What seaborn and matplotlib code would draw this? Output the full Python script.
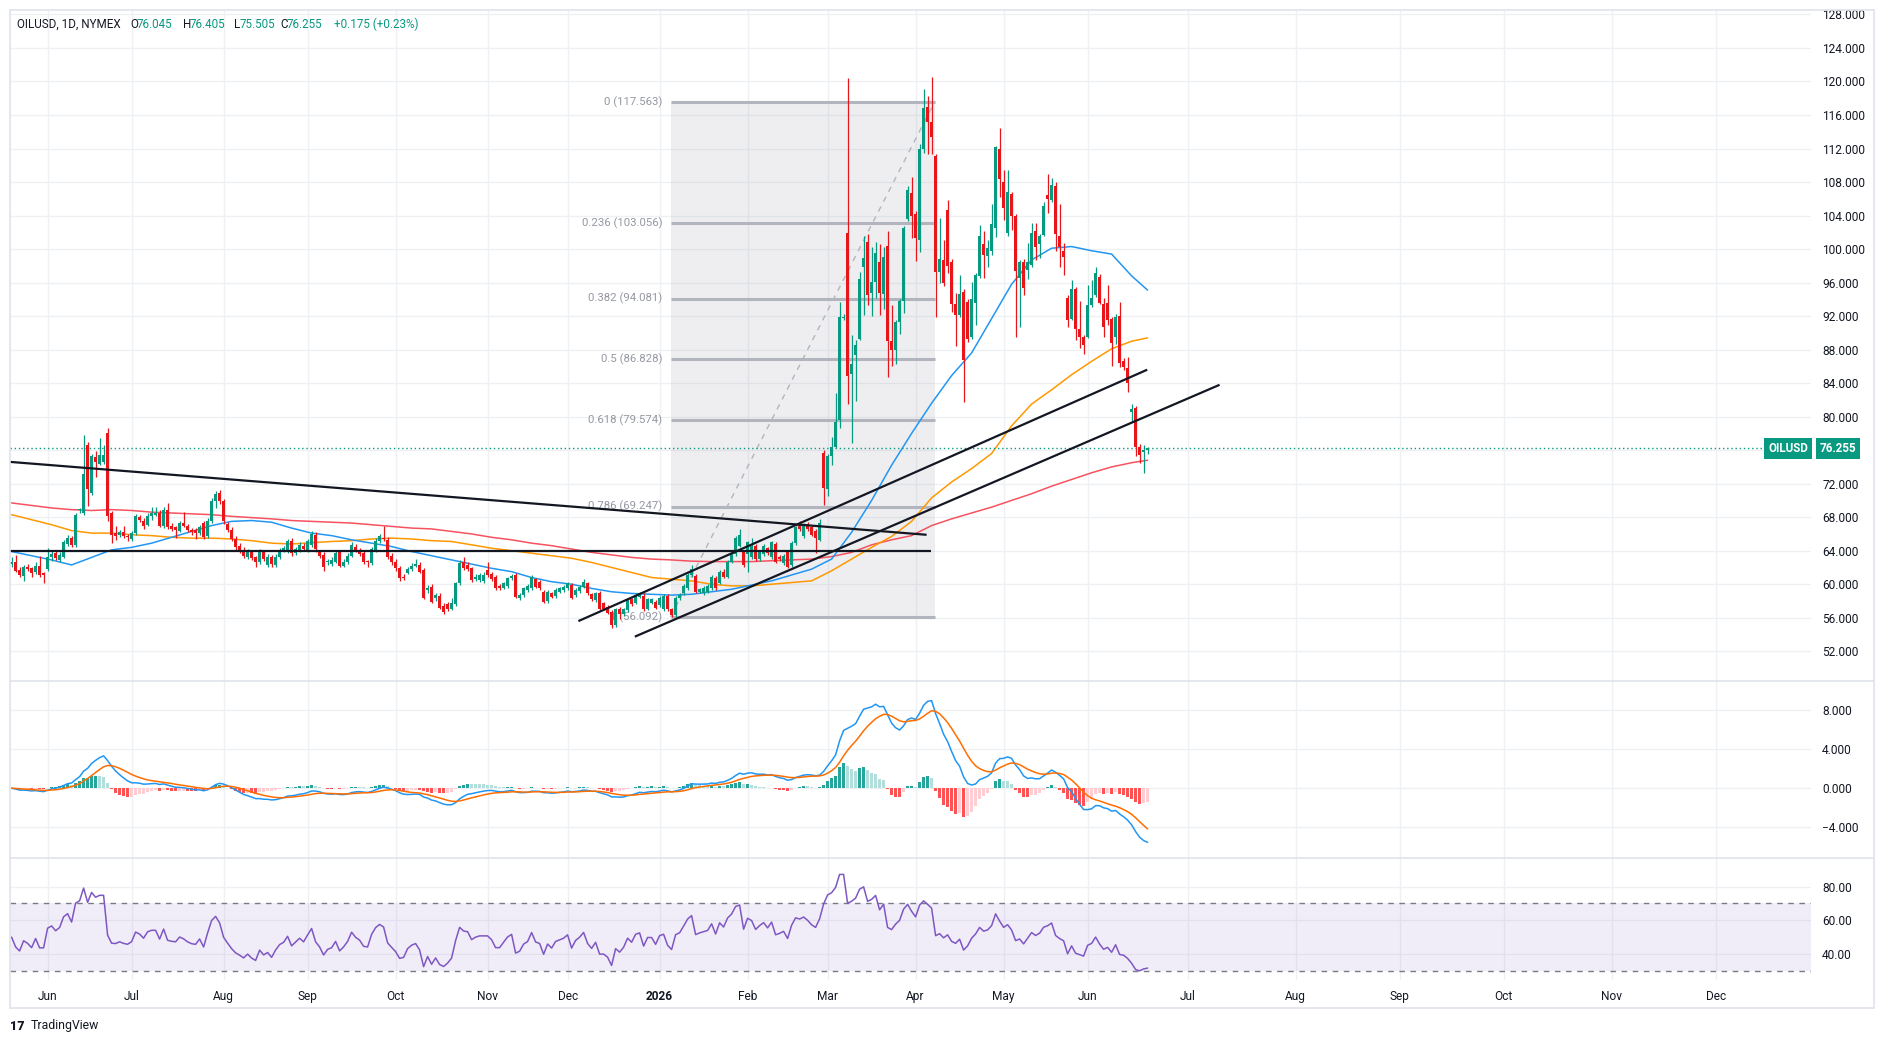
import matplotlib
matplotlib.use("Agg")
import matplotlib.pyplot as plt
from matplotlib.patches import Rectangle
from matplotlib.lines import Line2D
import seaborn as sns
import numpy as np
import pandas as pd

# daily OHLC, OILUSD NYMEX, one entry per trading bar (May 2025 -> Jun 2026)
opens = [62.4, 62.7, 61.7, 61.0, 62.1, 61.9, 61.4, 62.2, 61.3, 61.8,
         63.2, 63.7, 62.9, 63.3, 64.8, 65.5, 64.7, 68.8, 68.5, 76.6,
         70.9, 75.2, 74.4, 74.6, 78.0, 68.5, 66.1, 65.9, 66.2, 65.8,
         65.4, 66.1, 68.0, 67.6, 67.1, 68.2, 68.3, 68.5, 66.9, 68.8,
         67.0, 66.8, 66.4, 67.3, 67.0, 66.5, 66.5, 66.1, 67.3, 65.7,
         67.5, 69.9, 70.9, 69.9, 67.2, 66.5, 65.4, 64.6, 64.1, 63.2,
         63.8, 63.2, 62.6, 63.8, 62.3, 63.2, 62.3, 63.2, 64.1, 63.9,
         65.2, 63.7, 64.1, 64.6, 64.1, 64.7, 65.9, 63.8, 63.5, 62.6,
         62.4, 62.7, 63.8, 62.2, 62.6, 63.4, 64.5, 64.0, 63.7, 62.7,
         62.5, 64.1, 65.1, 65.5, 65.3, 63.4, 62.7, 61.9, 60.9, 61.3,
         61.8, 62.2, 62.3, 61.7, 59.3, 59.7, 58.3, 58.6, 57.4, 57.6,
         57.1, 57.6, 60.1, 62.7, 62.3, 61.9, 60.6, 60.5, 60.4, 61.7,
         61.2, 60.9, 59.8, 59.6, 59.8, 60.7, 61.1, 58.3, 58.7, 59.3,
         59.5, 60.6, 60.3, 59.1, 58.0, 58.9, 58.6, 59.1, 59.3, 59.5,
         59.9, 58.7, 59.2, 59.7, 60.1, 58.8, 58.1, 59.0, 57.7, 57.3,
         56.7, 55.1, 57.0, 56.4, 56.9, 58.2, 57.8, 58.5, 58.6, 57.1,
         57.8, 57.9, 57.5, 57.0, 58.6, 57.0, 56.3, 58.3, 58.9, 59.5,
         61.1, 61.0, 59.1, 58.9, 59.1, 59.5, 60.8, 60.2, 61.5, 60.9,
         62.7, 63.6, 64.6, 63.9, 63.6, 63.2, 64.6, 63.0, 63.6, 64.3,
         63.2, 64.8, 63.3, 62.5, 63.9, 62.3, 64.9, 67.3, 65.7, 67.2,
         66.8, 66.4, 65.3, 75.7, 71.4, 75.3, 76.4, 79.6, 91.8, 101.9,
         85.1, 87.4, 89.3, 97.9, 100.9, 94.7, 96.1, 98.4, 94.6, 100.4,
         89.0, 87.9, 91.3, 93.8, 103.6, 106.7, 104.2, 101.1, 112.0, 117.0,
         115.2, 111.1, 97.3, 98.7, 104.7, 98.5, 93.5, 92.1, 94.9, 93.7,
         89.5, 93.6, 96.8, 100.6, 99.2, 99.8, 102.5, 112.0, 108.0, 101.9,
         106.6, 103.9, 96.5, 98.5, 97.5, 98.1, 102.1, 100.6, 101.7, 106.4,
         105.9, 107.5, 101.6, 99.8, 94.1, 91.6, 95.2, 90.5, 89.5, 89.5,
         93.3, 94.5, 96.7, 93.5, 93.6, 91.6, 89.5, 92.0, 86.6, 85.8,
         80.6, 81.0, 76.4, 75.8, 76.045]
highs = [63.2, 63.5, 62.0, 62.3, 62.4, 62.1, 62.6, 63.4, 61.5, 64.3,
         64.0, 64.1, 63.8, 65.3, 65.9, 65.8, 68.5, 69.1, 77.8, 77.0,
         75.6, 75.9, 77.4, 76.6, 78.6, 68.7, 67.0, 66.5, 66.9, 66.0,
         66.4, 68.4, 68.3, 67.9, 68.5, 69.2, 69.2, 68.8, 69.2, 69.7,
         67.3, 67.0, 67.6, 68.6, 67.2, 66.7, 66.7, 67.1, 67.5, 67.9,
         70.3, 71.1, 71.2, 70.2, 67.4, 66.8, 65.7, 64.9, 64.4, 64.2,
         64.1, 63.4, 64.2, 64.1, 63.6, 63.5, 63.6, 64.3, 64.6, 65.4,
         65.5, 64.5, 65.0, 64.9, 65.4, 66.4, 66.2, 64.1, 63.8, 63.0,
         63.2, 64.0, 64.1, 63.0, 63.7, 65.0, 64.8, 64.3, 64.0, 62.9,
         64.5, 65.5, 66.0, 66.9, 65.6, 63.7, 63.0, 62.2, 61.2, 62.1,
         62.5, 63.0, 62.6, 61.9, 59.9, 60.0, 58.9, 58.9, 57.7, 57.9,
         58.4, 60.3, 62.9, 63.2, 62.6, 62.1, 61.2, 61.3, 61.4, 62.7,
         61.5, 61.1, 60.0, 60.3, 60.9, 61.2, 61.3, 58.9, 59.7, 60.0,
         61.1, 60.8, 60.5, 59.3, 59.3, 59.1, 59.5, 59.7, 59.9, 60.3,
         60.1, 59.5, 59.9, 60.6, 60.3, 59.0, 59.1, 59.2, 57.9, 57.5,
         56.9, 57.2, 57.3, 57.2, 58.4, 58.4, 58.9, 59.1, 58.9, 58.4,
         58.4, 58.1, 58.6, 58.8, 58.8, 57.2, 58.6, 58.9, 60.0, 61.3,
         62.3, 61.2, 59.6, 59.8, 60.0, 61.1, 61.0, 61.7, 61.8, 62.9,
         63.8, 65.7, 66.6, 64.1, 65.2, 65.5, 64.8, 64.1, 64.8, 64.5,
         65.2, 65.0, 63.5, 63.6, 64.1, 65.1, 67.0, 67.5, 67.3, 67.4,
         67.0, 66.6, 67.8, 76.0, 75.5, 77.6, 82.8, 93.7, 92.2, 120.4,
         89.7, 89.2, 97.3, 101.6, 101.8, 100.2, 100.9, 100.6, 100.2, 102.2,
         93.3, 91.5, 94.0, 102.8, 107.5, 108.6, 104.5, 112.5, 119.1, 118.3,
         120.5, 111.4, 103.7, 101.1, 105.8, 98.8, 94.7, 96.9, 95.2, 94.0,
         96.1, 97.1, 102.9, 102.1, 101.1, 105.4, 112.3, 114.4, 109.4, 109.4,
         106.8, 104.2, 98.7, 98.8, 100.7, 103.1, 103.1, 101.8, 105.6, 109.0,
         108.5, 108.0, 105.4, 100.7, 94.5, 96.3, 95.5, 93.8, 89.8, 95.7,
         96.3, 97.8, 97.0, 94.1, 95.7, 91.9, 92.2, 93.7, 87.0, 87.1,
         81.5, 81.3, 76.7, 76.6, 76.405]
lows = [62.1, 61.4, 60.9, 60.4, 61.6, 60.9, 61.2, 60.9, 60.2, 61.6,
        62.8, 62.9, 62.7, 63.1, 64.6, 64.4, 64.5, 68.5, 68.3, 69.3,
        70.6, 72.8, 74.2, 74.3, 67.5, 64.9, 65.3, 65.6, 65.5, 65.2,
        65.1, 65.9, 67.4, 66.6, 66.9, 67.7, 68.1, 66.8, 66.7, 66.6,
        66.3, 65.5, 66.2, 66.8, 66.2, 65.9, 65.4, 65.9, 65.4, 65.5,
        67.3, 69.1, 69.6, 67.2, 66.2, 65.1, 64.1, 63.7, 63.1, 63.0,
        62.9, 62.0, 62.4, 62.8, 62.1, 62.1, 62.1, 63.0, 63.9, 63.7,
        63.4, 63.5, 63.9, 64.0, 63.9, 64.5, 63.9, 63.1, 61.6, 62.3,
        62.2, 62.5, 62.0, 62.0, 62.4, 63.2, 63.8, 63.4, 62.4, 62.0,
        62.3, 63.9, 64.9, 65.1, 63.0, 62.3, 61.6, 60.4, 60.5, 61.2,
        61.6, 62.0, 61.3, 58.2, 59.0, 57.7, 58.0, 57.0, 56.4, 56.8,
        56.9, 57.4, 59.9, 61.7, 61.6, 60.3, 60.4, 60.3, 60.2, 60.9,
        60.4, 59.3, 59.3, 59.4, 59.6, 60.5, 58.3, 58.1, 58.5, 59.1,
        59.3, 59.5, 59.3, 57.7, 57.8, 58.3, 58.4, 58.9, 59.1, 59.3,
        58.2, 58.5, 59.0, 59.5, 58.7, 58.0, 57.9, 56.9, 56.9, 56.4,
        54.8, 54.9, 55.9, 56.2, 56.7, 57.4, 57.6, 58.3, 56.8, 56.9,
        57.6, 57.0, 57.3, 56.8, 56.8, 56.09, 56.1, 58.1, 58.7, 59.3,
        60.9, 58.9, 58.9, 58.7, 58.9, 59.3, 59.3, 60.0, 60.7, 60.7,
        62.5, 63.4, 64.4, 62.1, 61.4, 63.0, 62.8, 62.8, 63.4, 63.5,
        63.0, 62.5, 62.8, 62.3, 61.9, 62.1, 64.7, 66.4, 65.5, 66.4,
        65.7, 63.7, 65.1, 69.4, 70.5, 74.2, 76.2, 78.7, 91.5, 81.5,
        76.9, 81.9, 89.1, 92.1, 93.3, 92.0, 94.2, 92.1, 92.9, 84.7,
        86.0, 86.3, 89.9, 92.4, 103.3, 101.3, 98.6, 99.7, 111.5, 111.4,
        111.4, 91.9, 96.0, 95.6, 97.2, 92.5, 88.4, 91.9, 81.7, 88.9,
        89.3, 90.9, 96.5, 96.5, 97.9, 99.3, 101.4, 106.2, 103.5, 101.5,
        102.3, 89.5, 90.7, 94.5, 96.4, 97.9, 98.7, 98.9, 101.5, 104.3,
        105.6, 99.8, 97.9, 96.9, 90.7, 91.5, 89.1, 88.2, 87.5, 89.4,
        93.1, 94.3, 93.4, 89.5, 90.9, 86.0, 88.7, 85.9, 85.6, 83.0,
        79.4, 75.3, 74.5, 73.3, 75.505]
closes = [62.7, 61.6, 61.1, 62.1, 61.8, 61.3, 62.2, 61.1, 61.1, 63.3,
          63.6, 63.1, 63.5, 65.0, 65.5, 64.7, 68.3, 68.9, 73.2, 71.4,
          75.3, 74.6, 75.4, 75.4, 68.1, 65.9, 65.8, 66.2, 65.8, 65.6,
          66.1, 68.1, 67.7, 66.9, 68.2, 68.5, 68.5, 67.0, 68.9, 66.8,
          66.6, 66.5, 67.3, 67.0, 66.5, 66.2, 66.1, 66.8, 65.6, 67.6,
          69.9, 70.8, 69.9, 67.6, 66.5, 65.4, 64.5, 64.0, 63.4, 63.9,
          63.1, 62.6, 63.9, 63.0, 63.3, 62.4, 63.3, 64.0, 64.3, 65.1,
          63.7, 64.2, 64.7, 64.2, 65.1, 66.0, 64.2, 63.4, 62.0, 62.7,
          62.9, 63.7, 62.2, 62.7, 63.4, 64.7, 64.0, 63.6, 62.7, 62.6,
          64.2, 65.2, 65.7, 65.4, 63.3, 62.6, 61.9, 60.7, 60.8, 61.8,
          62.2, 62.4, 61.5, 58.4, 59.6, 57.9, 58.7, 57.2, 56.7, 57.1,
          57.7, 60.1, 62.5, 61.9, 61.8, 60.5, 60.9, 61.1, 61.1, 61.1,
          60.6, 59.5, 59.5, 60.1, 60.7, 61.0, 58.5, 58.7, 59.5, 59.8,
          60.9, 59.7, 59.5, 57.9, 59.1, 58.5, 59.3, 59.5, 59.7, 60.1,
          58.4, 59.3, 59.7, 60.3, 58.9, 58.2, 58.9, 57.1, 57.1, 56.6,
          55.1, 57.0, 56.4, 57.0, 58.2, 57.6, 58.7, 58.9, 57.0, 58.2,
          58.2, 57.2, 58.4, 58.6, 57.0, 56.3, 58.4, 58.7, 59.8, 61.1,
          61.8, 59.1, 59.4, 59.6, 59.8, 60.9, 59.5, 61.5, 60.9, 62.7,
          63.6, 65.5, 65.9, 62.3, 65.0, 64.6, 63.0, 63.9, 64.6, 63.7,
          65.0, 62.7, 63.0, 63.4, 62.1, 64.9, 66.8, 66.6, 67.1, 66.6,
          65.9, 65.5, 67.3, 71.5, 75.3, 76.4, 79.4, 91.9, 91.9, 84.9,
          86.3, 88.5, 96.4, 98.9, 94.5, 96.1, 99.5, 94.7, 99.0, 89.0,
          87.9, 91.3, 93.8, 102.5, 107.0, 103.9, 101.3, 112.0, 116.8, 115.2,
          113.4, 97.3, 98.8, 95.9, 98.0, 93.5, 92.1, 94.6, 86.8, 89.3,
          94.0, 96.9, 101.5, 99.3, 100.1, 103.0, 112.2, 108.4, 104.9, 106.8,
          103.9, 97.4, 98.4, 95.3, 98.5, 101.9, 100.3, 101.6, 105.1, 106.0,
          107.6, 101.8, 100.2, 99.1, 91.5, 95.2, 90.5, 89.5, 88.6, 93.3,
          94.2, 97.2, 93.6, 90.7, 91.5, 88.8, 91.9, 86.4, 85.9, 84.0,
          80.9, 76.4, 75.4, 76.0, 76.255]

# moving averages read every 5 bars
ma_idx = list(range(0, 285, 5)) + [284]
ma_blue = [63.9, 63.4, 62.9, 62.3, 63.2, 64.1, 64.4, 64.9, 65.6, 66.3,
           67.0, 67.5, 67.6, 67.4, 66.7, 66.1, 65.8, 65.3, 64.9, 64.5,
           63.9, 63.4, 62.9, 62.4, 61.9, 61.5, 60.8, 60.3, 60.0, 59.5,
           59.1, 58.9, 58.8, 58.7, 58.8, 59.1, 59.4, 59.9, 60.4, 61.1,
           61.8, 63.0, 66.2, 70.0, 74.2, 78.0, 81.6, 84.9, 87.6, 91.7,
           95.8, 98.7, 100.1, 100.3, 99.8, 99.4, 96.8, 95.1]
ma_orange = [68.3, 67.7, 67.1, 66.4, 66.1, 66.1, 65.9, 65.8, 65.6, 65.5,
             65.5, 65.4, 65.2, 64.9, 64.8, 64.95, 65.1, 65.2, 65.4, 65.5,
             65.4, 65.2, 65.1, 64.7, 64.3, 64.0, 63.7, 63.4, 63.1, 62.6,
             62.0, 61.4, 60.8, 60.6, 60.4, 60.0, 59.8, 59.8, 60.0, 60.2,
             60.4, 61.6, 63.0, 64.4, 65.7, 67.5, 70.3, 72.2, 73.8, 75.6,
             78.9, 81.5, 83.2, 85.0, 86.6, 88.1, 89.0, 89.4]
ma_red = [69.7, 69.4, 69.1, 68.9, 68.8, 68.9, 68.8, 68.6, 68.5, 68.4,
          68.3, 68.1, 67.95, 67.8, 67.6, 67.5, 67.4, 67.3, 67.1, 66.9,
          66.7, 66.6, 66.3, 66.0, 65.6, 65.3, 64.9, 64.6, 64.2, 63.8,
          63.5, 63.2, 63.0, 62.9, 62.75, 62.7, 62.7, 62.7, 62.8, 62.9,
          63.0, 63.3, 63.8, 64.7, 65.3, 65.8, 67.0, 67.8, 68.5, 69.2,
          70.0, 70.8, 71.7, 72.5, 73.3, 74.0, 74.5, 74.8]

# fibonacci retracement drawn on the chart
fib_low, fib_high = 56.092, 117.563
fib_ratios = [0, 0.236, 0.382, 0.5, 0.618, 0.786, 1]
fib_x = [164.75, 230.75]

# hand drawn trend lines (bar index, price)
trend_lines = [
    ([-0.4, 228.75], [74.6, 65.9]),
    ([-0.4, 229.75], [64.0, 64.0]),
    ([141.7, 283.9], [55.6, 85.6]),
    ([155.8, 302.0], [53.74, 83.8]),
]

month_pos = [9, 30, 53, 74, 96, 119, 139, 162, 184, 204, 226, 248, 269,
             294, 321, 347, 373, 400, 426]
month_labels = ["Jun", "Jul", "Aug", "Sep", "Oct", "Nov", "Dec", "2026", "Feb",
                "Mar", "Apr", "May", "Jun", "Jul", "Aug", "Sep", "Oct", "Nov", "Dec"]
last_price = 76.255
# average daily gain / loss carried in from before the first visible bar
rsi_seed = 0.32

UP, DOWN = "#089981", "#e8161b"
GRID = "#eef0f4"
TEXT = "#131722"

sns.set_theme(style="white")
plt.rcParams["font.family"] = ["Roboto", "DejaVu Sans"]

W, H = 1884, 1044
fig = plt.figure(figsize=(W / 100, H / 100), dpi=100)
fig.patch.set_facecolor("white")


def pane(top, bottom):
    return fig.add_axes([10 / W, 1 - bottom / H, 1801 / W, (bottom - top) / H])


ax = pane(10, 681)
ax_macd = pane(681, 858)
ax_rsi = pane(858, 980)

idx = np.arange(len(closes))
o = np.array(opens)
c = np.array(closes)
hi = np.array(highs)
lo = np.array(lows)

for a in (ax, ax_macd, ax_rsi):
    a.set_xlim(-0.4, 449.85)
    for s in a.spines.values():
        s.set_visible(False)
    a.set_xticks(month_pos)
    a.tick_params(axis="x", length=0, labelbottom=False)
    a.yaxis.tick_right()
    a.tick_params(axis="y", length=0, pad=8, labelsize=8.6, labelcolor=TEXT)
    a.grid(True, color=GRID, linewidth=1)
    a.set_axisbelow(True)

# ---- main price pane
ax.set_ylim(48.45, 128.53)
price_ticks = list(range(52, 129, 4))
ax.set_yticks(price_ticks)
ax.set_yticklabels(["" if t == 76 else f"{t:.3f}" for t in price_ticks])

# fib box
fib_levels = [fib_high - r * (fib_high - fib_low) for r in fib_ratios]
ax.add_patch(Rectangle((fib_x[0], fib_low), fib_x[1] - fib_x[0], fib_high - fib_low,
                       facecolor="#787b86", alpha=0.12, edgecolor="none", zorder=1))
for r, lvl in zip(fib_ratios, fib_levels):
    ax.hlines(lvl, fib_x[0], fib_x[1], color="#b2b5be", linewidth=2.2, zorder=2)
    ax.text(fib_x[0] - 2, lvl, f"{r:g} ({lvl:.3f})", ha="right", va="center",
            fontsize=8.2, color="#9598a1", zorder=2)
ax.plot(fib_x, [fib_low, fib_high], color="#b2b5be", linewidth=1,
        linestyle=(0, (4, 4)), zorder=2)

# moving averages
sns.lineplot(x=ma_idx, y=ma_red, ax=ax, color="#f7525f", linewidth=1.1, zorder=3)
sns.lineplot(x=ma_idx, y=ma_orange, ax=ax, color="#ff9800", linewidth=1.1, zorder=3)
sns.lineplot(x=ma_idx, y=ma_blue, ax=ax, color="#2196f3", linewidth=1.1, zorder=3)

# candles
col = np.where(c >= o, UP, DOWN)
ax.vlines(idx, lo, hi, colors=col, linewidth=0.9, zorder=4)
ax.bar(idx, np.maximum(np.abs(c - o), 0.12), bottom=np.minimum(o, c),
       width=0.64, color=col, linewidth=0, zorder=5)

for xs, ys in trend_lines:
    ax.plot(xs, ys, color=TEXT, linewidth=1.6, zorder=6, solid_capstyle="butt")

ax.axhline(last_price, color=UP, linewidth=1, linestyle=(0, (1, 2)), zorder=3)
ax.set_xlabel("")
ax.set_ylabel("")

# ---- MACD pane
close_s = pd.Series(closes)
ema12 = close_s.ewm(span=12, adjust=False).mean()
ema26 = close_s.ewm(span=26, adjust=False).mean()
macd = ema12 - ema26
signal = macd.ewm(span=9, adjust=False).mean()
hist = macd - signal
prev = hist.shift(1).fillna(0)
hcol = np.where(hist >= 0,
                np.where(hist >= prev, "#26a69a", "#b2dfdb"),
                np.where(hist < prev, "#ff5252", "#ffcdd2"))
ax_macd.bar(idx, hist, width=0.65, color=hcol, linewidth=0, zorder=2)
sns.lineplot(x=idx, y=macd.values, ax=ax_macd, color="#2196f3", linewidth=1.1, zorder=3)
sns.lineplot(x=idx, y=signal.values, ax=ax_macd, color="#ff6d00", linewidth=1.1, zorder=3)
ax_macd.set_ylim(-7.14, 10.97)
ax_macd.set_yticks([8, 4, 0, -4])
ax_macd.set_yticklabels(["8.000", "4.000", "0.000", "\u22124.000"])
ax_macd.set_xlabel("")
ax_macd.set_ylabel("")

# ---- RSI pane (Wilder smoothing, seeded so the first bar starts neutral)
delta = close_s.diff()
gain = delta.clip(lower=0).fillna(rsi_seed).ewm(alpha=1 / 14, adjust=False).mean()
loss = (-delta.clip(upper=0)).fillna(rsi_seed).ewm(alpha=1 / 14, adjust=False).mean()
rsi = 100 - 100 / (1 + gain / loss)
ax_rsi.axhspan(30, 70, color="#7e57c2", alpha=0.1, linewidth=0, zorder=1)
ax_rsi.axhline(70, color="#787b86", linewidth=1, linestyle=(0, (4, 4)), zorder=2)
ax_rsi.axhline(30, color="#787b86", linewidth=1, linestyle=(0, (4, 4)), zorder=2)
sns.lineplot(x=idx, y=rsi.values, ax=ax_rsi, color="#7e57c2", linewidth=1.1, zorder=3)
ax_rsi.set_ylim(24.5, 97.06)
ax_rsi.set_yticks([80, 60, 40])
ax_rsi.set_yticklabels(["80.00", "60.00", "40.00"])
ax_rsi.set_xlabel("")
ax_rsi.set_ylabel("")
ax_rsi.tick_params(axis="x", labelbottom=True, pad=7, labelsize=8.6, labelcolor=TEXT)
ax_rsi.set_xticklabels(month_labels)
for lab in ax_rsi.get_xticklabels():
    if lab.get_text() == "2026":
        lab.set_fontweight("bold")

# ---- frame and separators
def fline(x0, y0, x1, y1, color="#e0e3eb", lw=1.2):
    fig.add_artist(Line2D([x0 / W, x1 / W], [1 - y0 / H, 1 - y1 / H],
                          color=color, linewidth=lw, transform=fig.transFigure))


fline(10, 10, 1874, 10)
fline(10, 1008, 1874, 1008)
fline(10, 10, 10, 1008)
fline(1874, 10, 1874, 1008)
fline(10, 681, 1874, 681)
fline(10, 858, 1874, 858)

# ---- header legend
header = [("OILUSD, 1D, NYMEX", 17, TEXT), ("O", 130, TEXT), ("76.045", 137, UP),
          ("H", 183, TEXT), ("76.405", 190, UP), ("L", 234, TEXT), ("75.505", 240, UP),
          ("C", 280, TEXT), ("76.255", 287, UP), ("+0.175 (+0.23%)", 334, UP)]
for txt, xp, colr in header:
    fig.text(xp / W, 1 - 24 / H, txt, ha="left", va="center", fontsize=8.4, color=colr)

# last price labels on the price scale
fig.text(1788 / W, 1 - 448.5 / H, "OILUSD", ha="center", va="center", fontsize=8.4,
         color="white", fontweight="bold",
         bbox=dict(boxstyle="square,pad=0.32", facecolor=UP, edgecolor="none"))
fig.text(1838 / W, 1 - 448.5 / H, f"{last_price:.3f}", ha="center", va="center",
         fontsize=8.4, color="white", fontweight="bold",
         bbox=dict(boxstyle="square,pad=0.32", facecolor=UP, edgecolor="none"))

# watermark
fig.text(10 / W, 1 - 1026 / H, "17", ha="left", va="center", fontsize=9,
         fontweight="heavy", color=TEXT)
fig.text(31 / W, 1 - 1026 / H, "TradingView", ha="left", va="center", fontsize=8.8,
         color=TEXT)

fig.savefig("out.png", dpi=100, facecolor="white")
